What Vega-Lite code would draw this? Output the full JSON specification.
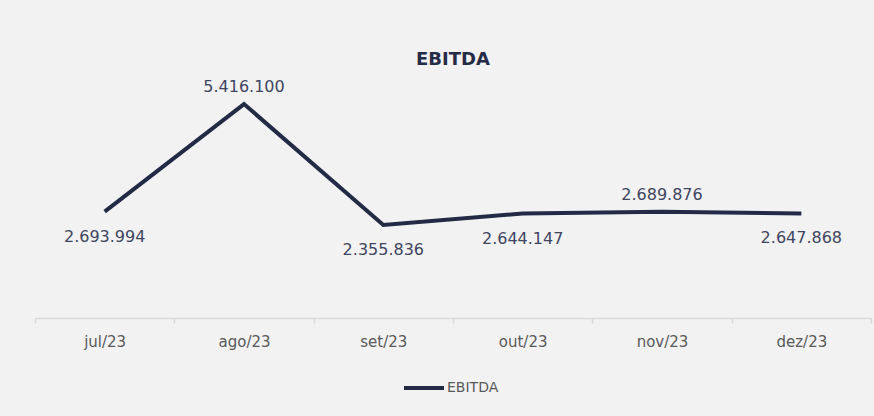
{
  "$schema": "https://vega.github.io/schema/vega-lite/v6.json",
  "width": 836,
  "height": 237,
  "autosize": {"type": "none"},
  "padding": {"left": 35, "top": 81, "right": 3, "bottom": 98},
  "background": "#f2f2f2",
  "config": {
    "view": {"stroke": null},
    "font": "DejaVu Sans",
    "locale": {"number": {"decimal": ",", "thousands": ".", "grouping": [3], "currency": ["R$", ""]}}
  },
  "title": {
    "text": "EBITDA",
    "fontSize": 18,
    "fontWeight": "bold",
    "color": "#262b47",
    "font": "DejaVu Sans",
    "anchor": "middle",
    "offset": 10
  },
  "data": {
    "values": [
      {"month": "jul/23", "value": 2693994, "labelPos": "below", "series": "EBITDA"},
      {"month": "ago/23", "value": 5416100, "labelPos": "above", "series": "EBITDA"},
      {"month": "set/23", "value": 2355836, "labelPos": "below", "series": "EBITDA"},
      {"month": "out/23", "value": 2644147, "labelPos": "below", "series": "EBITDA"},
      {"month": "nov/23", "value": 2689876, "labelPos": "above", "series": "EBITDA"},
      {"month": "dez/23", "value": 2647868, "labelPos": "below", "series": "EBITDA"}
    ]
  },
  "encoding": {
    "x": {
      "field": "month",
      "type": "ordinal",
      "sort": null,
      "scale": {"paddingInner": 0, "paddingOuter": 0},
      "axis": {
        "title": null,
        "labelAngle": 0,
        "labelFontSize": 15,
        "labelColor": "#595959",
        "labelPadding": 11,
        "domainColor": "#d9d9d9",
        "domainWidth": 1.5,
        "tickColor": "#d9d9d9",
        "tickSize": 5,
        "tickWidth": 1.5,
        "tickBand": "extent",
        "grid": false
      }
    },
    "y": {
      "field": "value",
      "type": "quantitative",
      "scale": {"domain": [0, 6000000], "nice": false},
      "axis": null
    }
  },
  "layer": [
    {
      "mark": {"type": "line", "strokeWidth": 4, "strokeCap": "butt", "strokeJoin": "miter"},
      "encoding": {
        "color": {
          "field": "series",
          "type": "nominal",
          "scale": {"range": ["#232a45"]},
          "legend": {
            "title": null,
            "orient": "none",
            "legendX": 367,
            "legendY": 285,
            "direction": "horizontal",
            "symbolType": "stroke",
            "symbolStrokeWidth": 4,
            "symbolSize": 1600,
            "labelFontSize": 14,
            "labelColor": "#595959",
            "labelOffset": 1
          }
        }
      }
    },
    {
      "transform": [{"filter": "datum.labelPos === 'above'"}],
      "mark": {"type": "text", "dy": -17, "fontSize": 16, "color": "#404560"},
      "encoding": {"text": {"field": "value", "type": "quantitative", "format": ",.0f"}}
    },
    {
      "transform": [{"filter": "datum.labelPos === 'below'"}],
      "mark": {"type": "text", "dy": 25, "fontSize": 16, "color": "#404560"},
      "encoding": {"text": {"field": "value", "type": "quantitative", "format": ",.0f"}}
    }
  ]
}
